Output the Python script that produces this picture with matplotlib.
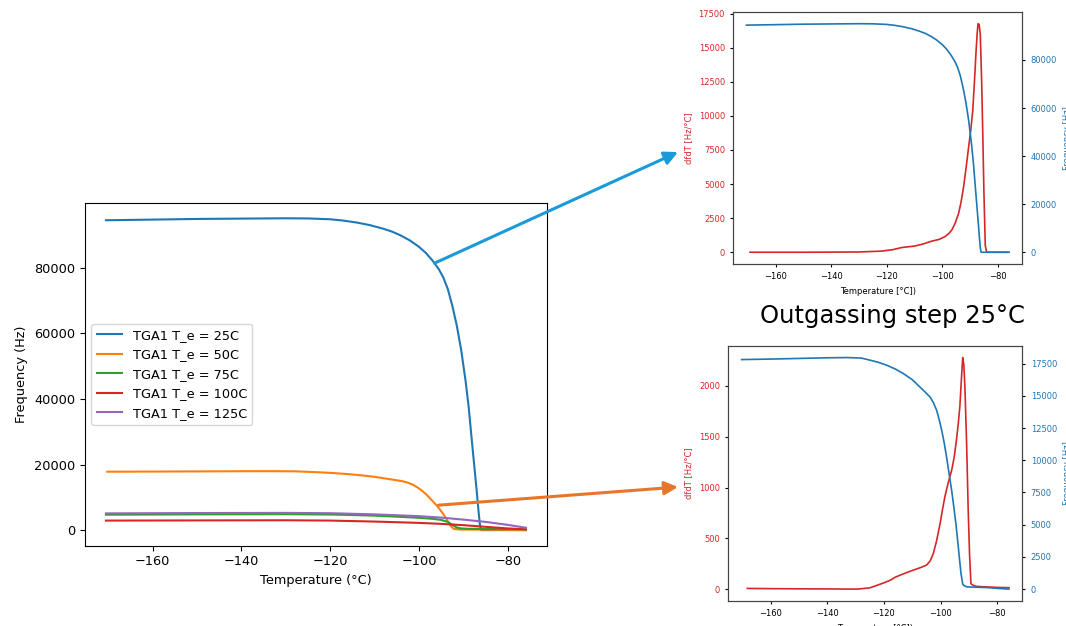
import matplotlib
matplotlib.use("Agg")
import matplotlib.pyplot as plt

# === Dados ===
# curva T_e = 25C (frequencia)
T25 = [-170.5, -160, -150, -140, -130, -125, -120, -117, -114, -111, -108, -106, -104, -102,
       -100, -98.5, -97, -95.5, -94.5, -93.5, -92.5, -91.5, -90.5, -89.5, -88.8, -88.1, -87.5,
       -87, -86.6, -86.3, -86, -84, -80, -75.9]
f25 = [94500, 94700, 94900, 95000, 95100, 95050, 94800, 94400, 93800, 93000, 91900, 91000,
       89800, 88300, 86400, 84600, 82300, 79500, 77000, 73500, 68500, 62500, 55000, 45500,
       37500, 27400, 19000, 12000, 6000, 2000, 0, 0, 0, 0]

# derivada T_e = 25C
Td25 = [-169.2, -150, -130, -122, -118, -114.5, -110, -107, -104, -101, -99, -97.5, -96.5,
        -95.3, -94.1, -93.2, -92.3, -91.4, -90.5, -89.7, -89.0, -88.4, -87.8, -87.4, -87.1,
        -86.7, -86.3, -85.8, -85.4, -85.0, -84.5, -84.0, -80, -76.4]
d25 = [0, 0, 20, 80, 180, 350, 450, 600, 800, 950, 1150, 1400, 1650, 2150, 2850, 3700, 4800,
       6200, 7700, 9000, 10400, 12500, 14800, 16100, 16760, 16700, 16000, 12500, 8700, 4500,
       500, 0, 0, 0]

# curva T_e = 50C (frequencia)
T50 = [-170.2, -160, -150, -140, -133, -128, -124.8, -122, -119, -116, -113.1, -110, -107.3,
       -105.5, -103.7, -102.5, -101.4, -100.5, -99.6, -98.7, -97.9, -97, -96.1, -95.3, -94.6,
       -94, -93.4, -92.8, -92.2, -91.8, -90.8, -88, -85, -83.8, -80, -75.9]
f50 = [17810, 17850, 17900, 17950, 17967, 17930, 17760, 17600, 17370, 17080, 16720, 16250,
       15680, 15300, 14900, 14450, 13870, 13150, 12310, 11300, 10240, 8950, 7650, 6300, 5060,
       3800, 2460, 1200, 390, 280, 180, 150, 130, 125, 60, 0]

# derivada T_e = 50C
Td50 = [-168.2, -160, -150, -140, -129.5, -125, -122.5, -120, -117.8, -116, -114.3, -112,
        -109.6, -107, -104.9, -103.7, -102.6, -101.4, -100.2, -99.3, -98.5, -97.3, -96.1,
        -95.2, -94.4, -93.8, -93.2, -92.7, -92.2, -91.8, -91.4, -90.8, -90.3, -89.8, -89.3,
        -88.5, -87.3, -84, -80, -75.9]
d50 = [10, 8, 6, 5, 3, 15, 40, 65, 90, 120, 140, 165, 190, 215, 240, 280, 350, 480, 645, 790,
       910, 1050, 1170, 1300, 1470, 1620, 1800, 2050, 2275, 2200, 1960, 1400, 810, 350, 56, 40,
       30, 25, 20, 17]

# T_e = 75C
T75 = [-170.5, -150, -130, -120, -115, -110, -105, -100, -97, -95, -93.5, -92.5, -91.5, -90.5,
       -89, -85, -80, -75.9]
f75 = [4700, 4800, 4850, 4750, 4600, 4400, 4100, 3750, 3450, 3100, 2500, 1600, 800, 500, 400,
       350, 300, 250]

# T_e = 100C
T100 = [-170.5, -150, -130, -120, -110, -100, -95, -90, -85, -80, -75.9]
f100 = [2900, 2950, 3000, 2900, 2600, 2200, 1900, 1500, 1000, 500, 250]

# T_e = 125C
T125 = [-170.5, -150, -130, -120, -110, -100, -95, -90, -85, -80, -75.9]
f125 = [5100, 5200, 5250, 5150, 4800, 4250, 3800, 3200, 2500, 1600, 700]

legendas = ["TGA1 T_e = 25C", "TGA1 T_e = 50C", "TGA1 T_e = 75C", "TGA1 T_e = 100C", "TGA1 T_e = 125C"]

fig = plt.figure(figsize=(10.66, 6.26), dpi=100)

# === Grafico principal ===
ax = fig.add_axes([0.0797, 0.1283, 0.4334, 0.5479])
ax.plot(T25, f25, label=legendas[0])
ax.plot(T50, f50, label=legendas[1])
ax.plot(T75, f75, label=legendas[2])
ax.plot(T100, f100, label=legendas[3])
ax.plot(T125, f125, label=legendas[4])
ax.set_xlabel("Temperature (°C)", fontsize=9.3)
ax.set_ylabel("Frequency (Hz)", fontsize=9.3)
ax.tick_params(labelsize=9.3)
ax.legend(loc="center left", fontsize=9.3)


def inset(rect, T_f, f, T_d, d):
    a1 = fig.add_axes(rect)
    a1.plot(T_d, d, color="tab:red", lw=1.2)
    a1.set_xlabel("Temperature [°C])", fontsize=6)
    a1.set_ylabel("dfdT [Hz/°C]", color="tab:red", fontsize=6)
    a1.tick_params(axis="y", labelcolor="tab:red", labelsize=6, length=2.5)
    a1.tick_params(axis="x", labelsize=6, length=2.5)
    a2 = a1.twinx()
    a2.plot(T_f, f, color="tab:blue", lw=1.2)
    a2.set_ylabel("Frequency [Hz]", color="tab:blue", fontsize=6)
    a2.tick_params(axis="y", labelcolor="tab:blue", labelsize=6, length=2.5)
    for a in (a1, a2):
        for s in a.spines.values():
            s.set_color("#444444")
            s.set_linewidth(0.8)
    return a1, a2


inset([0.6879, 0.5788, 0.2711, 0.4016], T25, f25, Td25, d25)
inset([0.6832, 0.0404, 0.2758, 0.4069], T50, f50, Td50, d50)

# === Setas ===
ax.annotate("", xy=(0.636, 0.757), xycoords="figure fraction",
            xytext=(-96.5, 81400), textcoords="data", annotation_clip=False,
            arrowprops=dict(arrowstyle="-|>", color="#1a9ad9", lw=2.2,
                            mutation_scale=20, shrinkA=0, shrinkB=0))
ax.annotate("", xy=(0.636, 0.222), xycoords="figure fraction",
            xytext=(-95.6, 7600), textcoords="data", annotation_clip=False,
            arrowprops=dict(arrowstyle="-|>", color="#e8762a", lw=2.2,
                            mutation_scale=20, shrinkA=0, shrinkB=0))

fig.text(0.837, 0.495, "Outgassing step 25°C", ha="center", va="center", fontsize=17.5)

fig.savefig("out.png", dpi=100)
